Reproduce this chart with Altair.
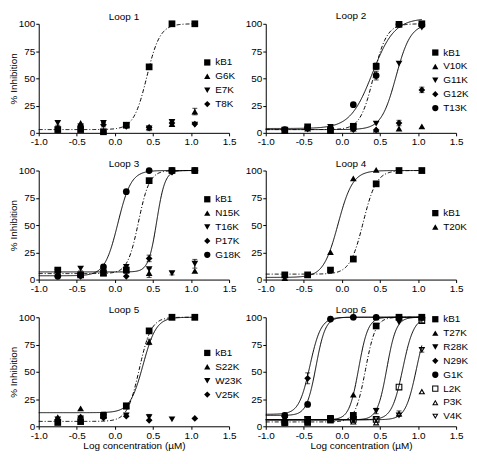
import altair as alt
import pandas as pd

# log concentration (uM) of the 7 test points
X = [-0.75, -0.45, -0.15, 0.15, 0.45, 0.75, 1.05]

# open (hollow) symbols as ring paths in the unit square [-1, 1]
OPEN_SQUARE = "M-1,-1H1V1H-1Z M-0.68,-0.68V0.68H0.68V-0.68Z"
OPEN_TRI_UP = "M0,-0.866L1,0.866L-1,0.866Z M0,-0.21L-0.43,0.54L0.43,0.54Z"
OPEN_TRI_DOWN = "M0,0.866L1,-0.866L-1,-0.866Z M0,0.21L-0.43,-0.54L0.43,-0.54Z"

# ---------------- Loop 1 ----------------
L1_SERIES = ["kB1", "G6K", "E7K", "T8K"]
L1_SHAPES = ["square", "triangle-up", "triangle-down", "diamond"]
L1_KB1 = [3, 3, 1, 7, 60.5, 100, 100]
L1_G6K = [5.5, 9, 2, 7, 5, 8, 19.5]
L1_E7K = [9, 6, 9, 6, 4, 10, 7.5]
L1_T8K = [3, 5.5, 7.5, 6, 5, 9, 8]
L1_FITS = [("kB1", 3, 100, 0.42, 5.0)]
L1_ERRS = [("kB1", -0.75, 3), ("E7K", -0.75, 2), ("G6K", 1.05, 3),
           ("E7K", 0.45, 2), ("T8K", 0.75, 2), ("T8K", -0.15, 2)]

# ---------------- Loop 2 ----------------
L2_SERIES = ["kB1", "V10K", "G11K", "G12K", "T13K"]
L2_SHAPES = ["square", "triangle-up", "triangle-down", "diamond", "circle"]
L2_KB1 = [2.3, 5.5, 2, 6, 61, 99.5, 100]
L2_V10K = [2, 4, 3, 4, 3, 4, 6]
L2_G11K = [3, 3, 5.5, 5.5, 8.5, 63.5, 96.5]
L2_G12K = [2.6, 4, 3, 3, 2.6, 9, 39.4]
L2_T13K = [3, 4.6, 4, 25.8, 52.5, 99.5, 99]
L2_FITS = [("kB1", 3, 100, 0.415, 5.0), ("G11K", 3, 100, 0.71, 4.5),
           ("T13K", 4, 105, 0.40, 3.0)]
L2_ERRS = [("kB1", 0.45, 3), ("T13K", 0.45, 4), ("G12K", 1.05, 2.5),
           ("G12K", 0.75, 2.5)]

# ---------------- Loop 3 ----------------
L3_SERIES = ["kB1", "N15K", "T16K", "P17K", "G18K"]
L3_SHAPES = ["square", "triangle-up", "triangle-down", "diamond", "circle"]
L3_KB1 = [8.7, 4.3, 5.8, 8.7, 90.7, 100, 100]
L3_N15K = [5, 5, 6, 9, 6, None, 8]
L3_T16K = [6.7, 10, 6.7, 11.6, 9.6, 5.8, 14.5]
L3_P17K = [4.3, 3, 6.7, 3, 19.4, 98.5, 100]
L3_G18K = [3, 4.3, 11.6, 80.6, 100, 100, 100]
L3_FITS = [("kB1", 5.5, 100, 0.31, 6.0), ("P17K", 7, 100, 0.55, 8.0),
           ("G18K", 3.5, 100, 0.04, 5.0)]
L3_ERRS = [("P17K", 0.45, 3), ("N15K", 0.45, 4), ("T16K", 1.05, 4),
           ("kB1", 0.15, 3), ("T16K", -0.45, 2), ("T16K", 0.75, 1.5)]

# ---------------- Loop 4 ----------------
L4_SERIES = ["kB1", "T20K"]
L4_SHAPES = ["square", "triangle-up"]
L4_KB1 = [4.3, 4.3, 8.7, 18.8, 87.8, 100, 100]
L4_T20K = [1.4, 4.3, 25.2, 92.8, 100.6, 100, 100]
L4_FITS = [("kB1", 5, 100, 0.28, 5.0), ("T20K", 2, 100, -0.05, 4.5)]
L4_ERRS = []

# ---------------- Loop 5 ----------------
L5_SERIES = ["kB1", "S22K", "W23K", "V25K"]
L5_SHAPES = ["square", "triangle-up", "triangle-down", "diamond"]
L5_KB1 = [3.5, 4.3, 10, 18.8, 87.5, 100, 100]
L5_S22K = [8.4, 16.5, 10, 18, 77.4, 100, 100]
L5_W23K = [6.4, 7.2, 8.4, 10, 8.4, 6.4, None]
L5_V25K = [5, 8.4, 7.8, 9.3, 5.5, None, 7.2]
L5_FITS = [("kB1", 4.5, 100, 0.32, 5.5), ("S22K", 12.5, 100, 0.37, 5.0)]
L5_ERRS = [("kB1", -0.15, 3), ("W23K", 0.45, 2.5), ("S22K", 0.45, 2.5)]

# ---------------- Loop 6 ----------------
L6_SERIES = ["kB1", "T27K", "R28K", "N29K", "G1K", "L2K", "P3K", "V4K"]
L6_SHAPES = ["square", "triangle-up", "triangle-down", "diamond", "circle",
             OPEN_SQUARE, OPEN_TRI_UP, OPEN_TRI_DOWN]
L6_KB1 = [3.5, 3.5, 6.4, 10, 92, 100, 100]
L6_T27K = [6.4, 5, 5.5, 29, 100, 100, 100]
L6_R28K = [6.4, 6.4, 6.4, 6.4, 14, 95.4, 100]
L6_N29K = [9.3, 44, 98.3, 100, 100, 100, 100]
L6_G1K = [10, 20, 98.3, 100, 100, 100, 100]
L6_L2K = [3.5, 6.4, 7.2, 6.4, 6.4, 36, 97]
L6_P3K = [5, 4.3, 5.5, 4.3, 3.5, 11.6, 32]
L6_V4K = [6.4, 6.4, 6.4, 5.5, 6.4, 9.9, 70]
L6_FITS = [("kB1", 4, 100, 0.31, 6.5), ("T27K", 6, 100, 0.22, 7.0),
           ("R28K", 6, 100, 0.59, 7.0), ("N29K", 11, 100, -0.42, 6.0),
           ("G1K", 10, 100, -0.34, 7.0), ("L2K", 6, 100, 0.80, 6.0),
           ("V4K", 6, 100, 0.98, 6.0)]
L6_ERRS = [("kB1", -0.75, 3), ("N29K", -0.45, 5), ("L2K", 1.05, 2),
           ("V4K", 1.05, 2), ("R28K", 0.45, 2.5), ("P3K", 0.75, 2.5),
           ("G1K", -0.75, 2)]

FONT = "Liberation Sans"
W, H = 192, 110
DASH_KB1 = [4, 2, 1, 2]


def panel(title, series, values, shapes, fits, errs, col, row, leg_y):
    pts = pd.DataFrame([
        {"series": s, "x": x, "y": v}
        for s, vals in zip(series, values)
        for x, v in zip(X, vals) if v is not None
    ])
    lookup = {(r.series, r.x): r.y for r in pts.itertuples()}

    xs = alt.Scale(domain=[-1, 1.5], nice=False, zero=False)
    ys = alt.Scale(domain=[0, 100], nice=False, zero=False)
    xaxis = alt.Axis(values=[-1, -0.5, 0, 0.5, 1, 1.5],
                     labelExpr="replace(format(datum.value, '.1f'), '\u2212', '-')",
                     title="Log concentration (\u00b5M)" if row == 2 else None)
    yaxis = alt.Axis(values=[0, 25, 50, 75, 100],
                     title="% Inhibition" if col == 0 else None)

    fit_df = pd.DataFrame(fits, columns=["series", "bottom", "top", "ec50", "hill"])
    lines = (
        alt.Chart(fit_df)
        .transform_calculate(x="sequence(-1, 1.0501, 0.01)")
        .transform_flatten(["x"])
        .transform_calculate(
            y="datum.bottom + (datum.top - datum.bottom) / (1 + pow(10, (datum.ec50 - datum.x) * datum.hill))"
        )
        .mark_line(color="black", strokeWidth=1, clip=False)
        .encode(
            x=alt.X("x:Q", scale=xs, axis=xaxis),
            y=alt.Y("y:Q", scale=ys, axis=yaxis),
            detail="series:N",
            strokeDash=alt.condition("datum.series == 'kB1'",
                                     alt.value(DASH_KB1), alt.value([1, 0])),
        )
    )

    leg = alt.Legend(title=None, orient="none",
                     legendX=W - (27 if col == 0 else 26), legendY=leg_y,
                     padding=0, rowPadding=4, labelOffset=3, symbolSize=40,
                     symbolFillColor="black", symbolStrokeWidth=0,
                     labelFontSize=10, labelFont=FONT, labelColor="black")
    points = (
        alt.Chart(pts)
        .mark_point(filled=True, size=46, opacity=1, color="black")
        .encode(
            x=alt.X("x:Q", scale=xs, axis=xaxis),
            y=alt.Y("y:Q", scale=ys, axis=yaxis),
            shape=alt.Shape("series:N", scale=alt.Scale(domain=series, range=shapes), legend=leg),
        )
    )

    layers = [lines]
    if errs:
        err_df = pd.DataFrame([
            {"series": s, "x": x, "lo": lookup[(s, x)] - e, "hi": lookup[(s, x)] + e}
            for s, x, e in errs
        ])
        bars = (
            alt.Chart(err_df)
            .mark_errorbar(ticks={"size": 5}, color="black", thickness=1)
            .encode(
                x=alt.X("x:Q", scale=xs, axis=xaxis),
                y=alt.Y("lo:Q", scale=ys, axis=yaxis),
                y2="hi:Q",
            )
        )
        layers.append(bars)
    layers.append(points)

    return alt.layer(*layers).properties(
        width=W, height=H,
        title=alt.TitleParams(title, dx=-10, frame="group", offset=-3),
    )


panels = [
    panel("Loop 1", L1_SERIES, [L1_KB1, L1_G6K, L1_E7K, L1_T8K], L1_SHAPES, L1_FITS, L1_ERRS, 0, 0, 34),
    panel("Loop 2", L2_SERIES, [L2_KB1, L2_V10K, L2_G11K, L2_G12K, L2_T13K], L2_SHAPES, L2_FITS, L2_ERRS, 1, 0, 24),
    panel("Loop 3", L3_SERIES, [L3_KB1, L3_N15K, L3_T16K, L3_P17K, L3_G18K], L3_SHAPES, L3_FITS, L3_ERRS, 0, 1, 24),
    panel("Loop 4", L4_SERIES, [L4_KB1, L4_T20K], L4_SHAPES, L4_FITS, L4_ERRS, 1, 1, 38),
    panel("Loop 5", L5_SERIES, [L5_KB1, L5_S22K, L5_W23K, L5_V25K], L5_SHAPES, L5_FITS, L5_ERRS, 0, 2, 31),
    panel("Loop 6", L6_SERIES, [L6_KB1, L6_T27K, L6_R28K, L6_N29K, L6_G1K, L6_L2K, L6_P3K, L6_V4K], L6_SHAPES, L6_FITS, L6_ERRS, 1, 2, -3),
]

chart = (
    alt.concat(*panels, columns=2, spacing={"row": 38, "column": 37}, bounds="flush")
    .resolve_scale(shape="independent", x="independent", y="independent")
    .properties(padding={"left": 0, "top": 0, "right": 0, "bottom": 0}, background="white")
    .configure_view(stroke=None)
    .configure_axis(domainColor="black", domainWidth=1, tickColor="black", tickWidth=1,
                    tickSize=3, labelColor="black", labelFont=FONT, labelFontSize=10,
                    labelPadding=1, labelFlush=False, titleFont=FONT, titleFontSize=10,
                    titleFontWeight="normal", titleColor="black", titlePadding=0, grid=False)
    .configure_title(font=FONT, fontSize=10, fontWeight="normal", color="black")
)

chart.save("out.html", embed_options={"renderer": "svg", "actions": False})
